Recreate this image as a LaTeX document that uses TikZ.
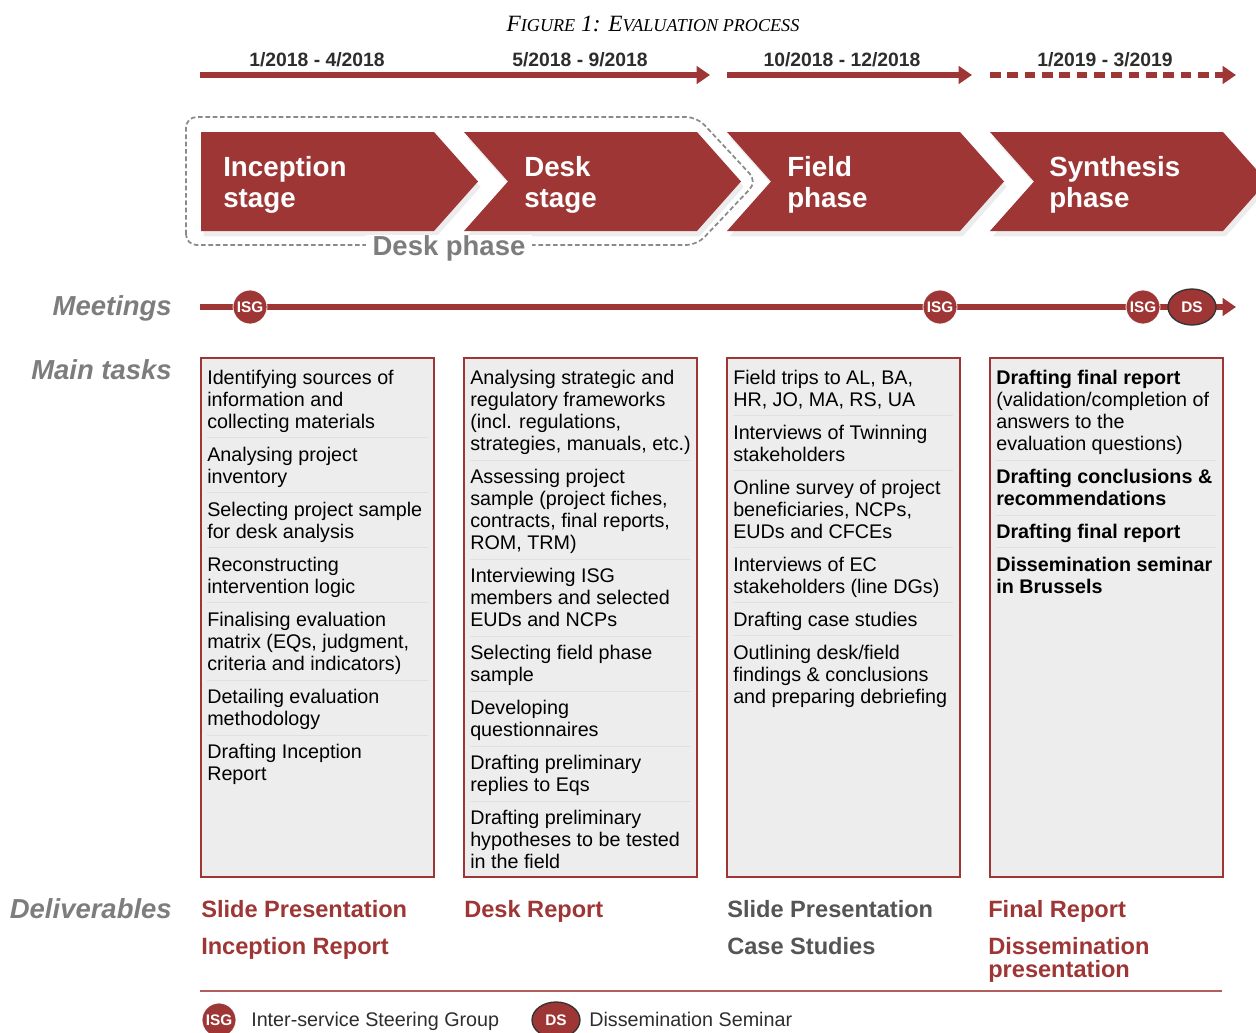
\documentclass[tikz,border=0pt]{standalone}
\usepackage{fontspec}
\setmainfont{Liberation Sans}
\newfontfamily\titlefont{Liberation Serif}
\usetikzlibrary{arrows.meta, shapes.geometric, shadows}

\definecolor{evalred}{RGB}{158,54,53}
\definecolor{boxgray}{RGB}{237,237,237}
\definecolor{labelgray}{RGB}{125,125,125}
\definecolor{dategray}{RGB}{45,45,45}
\definecolor{delivgray}{RGB}{85,85,85}

\newcommand{\fsc}[1]{{\fontsize{13.6}{14}\selectfont #1}}

\tikzset{
  every node/.style={inner sep=0pt},
  stage/.style={fill=evalred, drop shadow={shadow xshift=2pt, shadow yshift=-4pt, opacity=0.15}},
  stagetext/.style={anchor=north west, align=left, text=white, font=\fontsize{20.8}{23.3}\selectfont\bfseries},
  datetext/.style={anchor=base, text=dategray, font=\fontsize{14.5}{16}\selectfont\bfseries},
  timeline/.style={evalred, line width=4.5pt, -{Triangle[length=10pt,width=13pt]}},
  rowlabel/.style={anchor=base east, text=labelgray, font=\fontsize{20.6}{24}\selectfont\bfseries\itshape},
  isg/.style={circle, fill=evalred, draw=white, line width=0.6pt, minimum size=25.5pt, text=white, font=\fontsize{11.5}{12}\selectfont\bfseries},
  ds/.style={ellipse, fill=evalred, draw=black!80, line width=1pt, minimum width=36pt, minimum height=27pt, text=white, font=\fontsize{11.5}{12}\selectfont\bfseries},
  taskbox/.style={fill=boxgray, draw=evalred, line width=1.2pt},
  task/.style={anchor=north west, align=left, font=\fontsize{14.8}{16.5}\selectfont},
  tasksep/.style={draw=black!12, line width=0.6pt},
  deliv/.style={anchor=north west, align=left, text=evalred, font=\fontsize{17.7}{17.3}\selectfont\bfseries},
  legendtext/.style={anchor=base west, text=dategray, font=\fontsize{14.8}{16}\selectfont},
}

\begin{document}
\begin{tikzpicture}[x=0.75pt, y=-0.75pt]
\clip (0,0) rectangle (1256,1032);

% title
\node[anchor=base, font=\titlefont\itshape\fontsize{17.5}{18}\selectfont] (title) at (653,31) {F\fsc{IGURE} 1: E\fsc{VALUATION PROCESS}};

% time periods
\node[datetext] (per1) at (317,66) {1/2018 - 4/2018};
\node[datetext] (per2) at (580,66) {5/2018 - 9/2018};
\node[datetext] (per3) at (842,66) {10/2018 - 12/2018};
\node[datetext] (per4) at (1105,66) {1/2019 - 3/2019};

\coordinate (t1s) at (200,75);
\coordinate (t1e) at (710,75);
\coordinate (t2s) at (727,75);
\coordinate (t2e) at (972,75);
\coordinate (t3s) at (990,75);
\coordinate (t3e) at (1236,75);
\draw[timeline] (t1s) -- (t1e);
\draw[timeline] (t2s) -- (t2e);
\draw[timeline, dash pattern=on 8pt off 5pt] (t3s) -- (t3e);

% stages
\fill[stage] (201,132) -- (434,132) -- (478,181.5) -- (434,231) -- (201,231) -- cycle;
\foreach \x in {464,727,990}
  \fill[stage] (\x,132) -- (\x+233,132) -- (\x+277,181.5) -- (\x+233,231) -- (\x,231) -- (\x+44,181.5) -- cycle;

\node[stagetext] (incep) at (223,156) {Inception\\stage};
\node[stagetext] (desk) at (524,156) {Desk\\stage};
\node[stagetext] (field) at (787,156) {Field\\phase};
\node[stagetext] (synth) at (1049,156) {Synthesis\\phase};

% desk phase frame
\draw[labelgray!90, line width=1.3pt, dash pattern=on 3.5pt off 2pt, rounded corners=8pt]
  (186,245) -- (186,117) -- (697,117) -- (757,181.5) -- (697,245) -- cycle;
\node[fill=white, inner xsep=5pt, text=labelgray, font=\fontsize{20.6}{24}\selectfont\bfseries] (deskph) at (449,248) {Desk phase};

% meetings
\node[rowlabel] (meet) at (172,315) {Meetings};
\coordinate (ms) at (200,307);
\coordinate (me) at (1236,307);
\draw[evalred, line width=5pt, -{Triangle[length=10pt,width=13pt]}] (ms) -- (me);
\node[isg] (isg1) at (250,307) {ISG};
\node[isg] (isg2) at (940,307) {ISG};
\node[isg] (isg3) at (1143,307) {ISG};
\node[ds] (ds1) at (1192,307) {DS};

% main tasks
\node[rowlabel] (tasks) at (172,379) {Main tasks};
\foreach \x in {201,464,727,990}
  \draw[taskbox] (\x,358) rectangle ++(233,519);

\node[task] (c1a) at (207,370) {Identifying sources of\\information and\\collecting materials};
\node[task] (c1b) at (207,447) {Analysing project\\inventory};
\node[task] (c1c) at (207,502) {Selecting project sample\\for desk analysis};
\node[task] (c1d) at (207,557) {Reconstructing\\intervention logic};
\node[task] (c1e) at (207,612) {Finalising evaluation\\matrix (EQs, judgment,\\criteria and indicators)};
\node[task] (c1f) at (207,689) {Detailing evaluation\\methodology};
\node[task] (c1g) at (207,744) {Drafting Inception\\Report};
\foreach \y in {437,492,547,602,680,735}
  \draw[tasksep] (207,\y) -- (428,\y);

\node[task] (c2a) at (470,370) {Analysing strategic and\\regulatory frameworks\\(incl. regulations,\\strategies, manuals, etc.)};
\node[task] (c2b) at (470,469) {Assessing project\\sample (project fiches,\\contracts, final reports,\\ROM, TRM)};
\node[task] (c2c) at (470,568) {Interviewing ISG\\members and selected\\EUDs and NCPs};
\node[task] (c2d) at (470,645) {Selecting field phase\\sample};
\node[task] (c2e) at (470,700) {Developing\\questionnaires};
\node[task] (c2f) at (470,755) {Drafting preliminary\\replies to Eqs};
\node[task] (c2g) at (470,810) {Drafting preliminary\\hypotheses to be tested\\in the field};
\foreach \y in {460,559,636,691,746,801}
  \draw[tasksep] (470,\y) -- (691,\y);

\node[task] (c3a) at (733,370) {Field trips to AL, BA,\\HR, JO, MA, RS, UA};
\node[task] (c3b) at (733,425) {Interviews of Twinning\\stakeholders};
\node[task] (c3c) at (733,480) {Online survey of project\\beneficiaries, NCPs,\\EUDs and CFCEs};
\node[task] (c3d) at (733,557) {Interviews of EC\\stakeholders (line DGs)};
\node[task] (c3e) at (733,612) {Drafting case studies};
\node[task] (c3f) at (733,645) {Outlining desk/field\\findings \& conclusions\\and preparing debriefing};
\foreach \y in {415,470,547,602,635}
  \draw[tasksep] (733,\y) -- (953,\y);

\node[task] (c4a) at (996,370) {\textbf{Drafting final report}\\(validation/completion of\\answers to the\\evaluation questions)};
\node[task, font=\fontsize{14.8}{16.5}\selectfont\bfseries] (c4b) at (996,469) {Drafting conclusions \&\\recommendations};
\node[task, font=\fontsize{14.8}{16.5}\selectfont\bfseries] (c4c) at (996,524) {Drafting final report};
\node[task, font=\fontsize{14.8}{16.5}\selectfont\bfseries] (c4d) at (996,557) {Dissemination seminar\\in Brussels};
\foreach \y in {460,515,547}
  \draw[tasksep] (996,\y) -- (1216,\y);

% deliverables
\node[rowlabel] (deliv) at (172,918) {Deliverables};
\node[deliv] (d1a) at (201,900.5) {Slide Presentation};
\node[deliv] (d1b) at (201,937.5) {Inception Report};
\node[deliv] (d2a) at (464,900.5) {Desk Report};
\node[deliv, text=delivgray] (d3a) at (727,900.5) {Slide Presentation};
\node[deliv, text=delivgray] (d3b) at (727,937.5) {Case Studies};
\node[deliv] (d4a) at (988,900.5) {Final Report};
\node[deliv] (d4b) at (988,937.5) {Dissemination\\presentation};

% legend
\draw[evalred!80, line width=0.8pt] (200,991) -- (1222,991);
\node[isg] (legisg) at (219,1020) {ISG};
\node[legendtext] (legisgtxt) at (251,1026) {Inter-service Steering Group};
\node[ds] (legds) at (556,1020) {DS};
\node[legendtext] (legdstxt) at (589,1026) {Dissemination Seminar};
\end{tikzpicture}
\end{document}
